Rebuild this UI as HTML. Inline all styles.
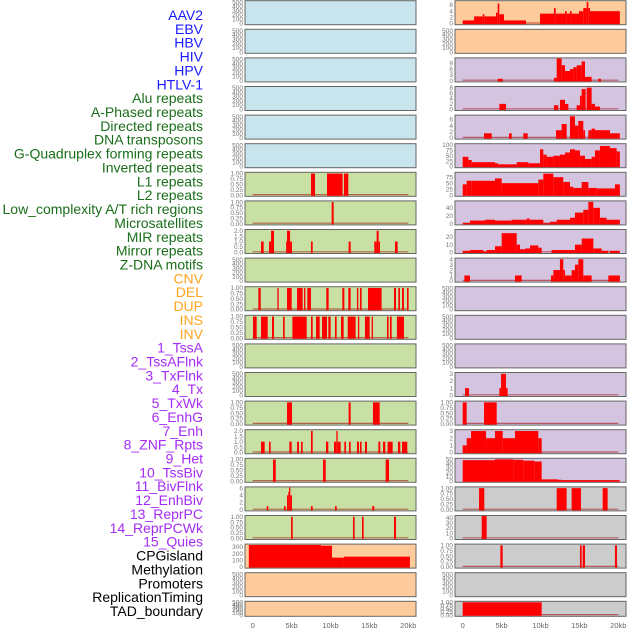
<!DOCTYPE html>
<html><head><meta charset="utf-8">
<style>
html,body{margin:0;padding:0;background:#fff;width:630px;height:630px;overflow:hidden}
svg{display:block}
.lbl{font-family:"Liberation Sans",sans-serif;font-size:14px}
.tick{font-family:"Liberation Sans",sans-serif;font-size:6.5px;fill:#777}
.xt{font-family:"Liberation Sans",sans-serif;font-size:7.5px;fill:#666}
</style></head>
<body>
<svg id="chart" width="630" height="630" viewBox="0 0 630 630" xmlns="http://www.w3.org/2000/svg"></svg>
<script>
// ---- track labels ----
const labelNames = ["AAV2","EBV","HBV","HIV","HPV","HTLV-1","Alu repeats","A-Phased repeats","Directed repeats","DNA transposons","G-Quadruplex forming repeats","Inverted repeats","L1 repeats","L2 repeats","Low_complexity A/T rich regions","Microsatellites","MIR repeats","Mirror repeats","Z-DNA motifs","CNV","DEL","DUP","INS","INV","1_TssA","2_TssAFlnk","3_TxFlnk","4_Tx","5_TxWk","6_EnhG","7_Enh","8_ZNF_Rpts","9_Het","10_TssBiv","11_BivFlnk","12_EnhBiv","13_ReprPC","14_ReprPCWk","15_Quies","CPGisland","Methylation","Promoters","ReplicationTiming","TAD_boundary"];
const labelGroups = [6,13,5,15,5];
const groupColors = ["#1a1aff","#1a6e1a","#ffa520","#a52cf5","#000000"];

// ---- tick sets ----
const T500 = [0,100,200,300,400,500];
const T1 = [0,0.25,0.5,0.75,1];
const T2 = [0,0.5,1,1.5,2];
const xTickKb = [0,5,10,15,20];
const xTickLabels = ["0","5kb","10kb","15kb","20kb"];

// ---- left column data: [startKb, endKb, value] ----
const L6 = [[7.49,8.01,1],[9.55,11.56,1],[11.73,12.29,1]];
const L7 = [[10.15,10.41,1]];
const L8 = [[1.07,1.41,1],[2.1,2.36,1],[2.36,2.74,2],[4.3,4.41,1],[4.41,4.8,2],[4.8,5.05,1],[7.49,7.71,1],[12.33,12.59,1],[15.63,15.93,1],[15.93,16.19,2],[16.19,16.36,1],[18.29,18.63,1]];
const L10 = [[0.73,1.03,1],[3.17,3.34,1],[4.41,5.01,1],[5.7,6.42,1],[6.6,6.77,1],[7.02,7.49,1],[9.46,9.76,1],[11.52,11.78,1],[12.29,12.59,1],[13.4,13.58,1],[13.79,14.0,1],[14.82,16.57,1],[18.16,18.42,1],[18.72,18.93,1],[19.19,19.44,1],[19.83,20.04,1]];
const L11 = [[0.04,0.51,1],[1.07,1.93,1],[2.48,2.74,1],[3.9,4.11,1],[5.1,6.94,1],[7.49,7.71,1],[8.14,8.61,1],[8.91,9.55,1],[9.72,10.02,1],[10.58,10.79,1],[11.35,11.69,1],[12.21,13.23,1],[13.53,13.7,1],[14.43,15.03,1],[15.29,15.46,1],[17.26,17.47,1],[17.64,17.86,1],[18.54,19.44,1]];
const L14 = [[4.41,5.05,1],[12.33,12.59,1],[15.46,16.32,1]];
const L15 = [[1.07,1.54,1],[2.1,2.31,1],[4.71,5.01,1],[5.7,5.95,1],[6.21,6.42,1],[7.49,7.71,2],[9.42,9.72,1],[10.45,10.75,1],[10.75,10.92,2],[10.92,11.31,1],[11.78,11.99,1],[12.38,12.59,1],[13.4,13.66,1],[13.79,14.0,1],[14.43,14.69,1],[16.15,16.4,1],[16.75,17.04,1],[17.34,17.99,1],[18.67,18.97,1],[19.19,19.87,1]];
const L16 = [[2.61,2.96,1],[9.04,9.38,1],[17.09,17.52,1]];
const L17 = [[1.8,2.01,1],[4.03,4.24,1],[4.41,4.58,4],[4.58,4.67,5],[4.67,4.84,7],[4.84,5.05,4],[7.49,7.71,1],[10.58,10.79,1],[15.37,15.63,1]];
const L18 = [[4.93,5.14,1],[12.89,13.1,1],[14.05,14.26,1],[18.16,18.42,1]];
const L19 = [[-0.5,8.78,330],[8.78,10.19,320],[10.19,11.73,140],[11.73,20.21,155]];

// ---- right column data ----
const R0 = [[0,1.46,1],[1.46,2.57,2.3],[2.57,2.78,3],[2.78,4.28,2.3],[4.28,4.5,3.5],[4.5,4.71,6.5],[4.71,5.31,3],[5.31,8.14,1],[9.94,11.73,3.2],[11.73,11.95,5],[11.95,13.15,3.2],[13.15,13.36,4],[13.36,13.79,3.2],[13.79,14.0,4],[14.0,14.95,3.2],[14.95,15.5,4],[15.5,15.93,5],[15.93,16.15,7],[16.15,16.36,5],[16.36,20.2,4]];
const R2 = [[4.5,5.14,1],[11.73,12.08,1.5],[12.08,12.72,11.5],[12.72,13.15,8],[13.15,13.79,5],[13.79,14.22,6],[14.22,14.65,7],[14.65,15.29,8],[15.29,15.72,10],[15.72,16.57,2],[17.43,17.77,1]];
const R3 = [[4.71,5.57,2],[11.73,12.29,1.5],[12.5,13.15,3.5],[13.15,13.58,2],[14.65,15.07,1.5],[15.07,15.29,5],[15.29,15.8,7.5],[15.93,16.57,8],[16.57,17.0,2],[17.0,17.64,1]];
const R4 = [[2.74,3.73,1.5],[5.95,6.3,1.5],[7.79,8.35,1.5],[11.99,12.72,2.5],[12.72,13.36,4.5],[13.79,14.43,7],[14.43,14.86,4],[14.86,15.5,5.5],[15.5,15.72,2.5],[16.15,16.57,2.5],[16.57,17.0,3],[17.0,18.93,2.5],[18.93,20.2,1.5]];
const R5 = [[0,0.73,45],[0.73,1.16,30],[1.16,4.15,20],[4.15,4.58,15],[4.58,6.94,10],[6.94,8.44,20],[8.44,9.94,15],[9.94,10.36,80],[10.36,10.79,55],[10.79,11.65,45],[11.65,12.5,50],[12.5,13.15,55],[13.15,13.79,65],[13.79,14.43,80],[14.43,15.07,75],[15.07,15.72,50],[15.72,16.57,35],[16.57,17.0,45],[17.0,17.64,75],[17.64,18.93,95],[18.93,19.79,85],[19.79,20.2,70]];
const R6 = [[0,0.51,45],[0.51,1.16,60],[1.16,4.15,60],[4.15,5.01,70],[5.01,6.72,50],[6.72,9.72,50],[9.72,10.36,65],[10.36,11.65,90],[11.65,12.93,75],[12.93,13.79,55],[13.79,14.22,35],[14.22,15.29,30],[15.29,16.15,55],[16.15,17.22,30],[17.22,19.57,28],[19.57,20.2,45]];
const R7 = [[0,0.94,2],[0.94,2.87,8],[2.87,4.15,10],[4.15,6.3,8],[6.3,8.22,10],[8.22,8.6,13],[8.6,10.36,10],[10.36,11.22,1],[11.22,12.08,5],[12.08,13.79,10],[13.79,14.43,15],[14.43,15.5,28],[15.5,16.15,35],[16.15,16.79,55],[16.79,17.64,40],[17.64,18.5,15],[18.5,20.2,10]];
const R8 = [[0,0.94,2],[0.94,2.66,3],[2.66,3.08,1],[3.08,4.15,3],[4.15,5.01,8],[5.01,6.94,25],[6.94,7.37,10],[7.37,8.01,4],[8.01,8.65,5],[8.65,9.72,9],[9.72,10.15,6],[11.43,12.29,3],[12.29,14.43,3],[14.43,15.29,10],[15.29,16.79,18],[16.79,17.86,5],[17.86,18.72,2],[18.93,20.2,2]];
const R9 = [[0.21,0.94,1],[6.72,7.58,1],[11.35,11.65,1],[11.65,12.5,2],[12.5,12.93,4],[12.93,13.15,2],[13.15,14.0,1],[14.0,14.43,2],[14.43,14.86,3],[14.86,15.5,4],[15.5,16.57,1],[18.72,20.2,1]];
const R13 = [[0.3,0.81,1],[4.71,4.93,1],[4.93,5.57,3],[5.57,5.78,1]];
const R14 = [[0,0.51,1],[2.74,4.37,1]];
const R15 = [[0,0.51,1],[0.51,1.07,2],[1.07,3.0,3],[3.0,4.15,2],[4.15,5.14,3],[5.14,6.72,2],[6.72,9.72,3],[9.72,10.15,2]];
const R16 = [[0,4.15,48],[4.15,6.51,50],[6.51,7.79,49],[7.79,9.2,47],[9.2,10.15,45],[10.15,12.2,4],[12.2,12.72,3],[12.72,20.2,2]];
const R17 = [[2.1,2.78,1],[12.08,13.36,1],[14.0,15.2,1],[17.99,18.63,1]];
const R18 = [[2.44,3.08,43]];
const R19 = [[4.84,5.14,1],[15.07,15.29,1],[15.42,15.72,1],[19.57,19.83,1]];
const R21 = [[0,10.15,1]];

// panel specs: [dataArray, ymax, ticks, bg]
const BL="#c8e4ec", GR="#c8e0a4", PE="#fecc9c", LV="#d4c4e0", GY="#cccccc";
const leftPanels = [
 [null,520,T500,BL],[null,520,T500,BL],[null,520,T500,BL],[null,520,T500,BL],[null,520,T500,BL],[null,520,T500,BL],
 [L6,1.03,T1,GR],[L7,1.03,T1,GR],[L8,2.06,T2,GR],[null,520,T500,GR],[L10,1.03,T1,GR],[L11,1.03,T1,GR],
 [null,520,T500,GR],[null,520,T500,GR],[L14,1.03,T1,GR],[L15,2.06,T2,GR],[L16,1.03,T1,GR],[L17,6.2,[0,2,4,6],GR],
 [L18,1.03,T1,GR],[L19,335,[0,100,200,300],PE],[null,520,T500,PE],[null,520,T500,PE]];
const rightPanels = [
 [R0,7.2,[0,2,4,6],PE],[null,520,T500,PE],[R2,11.5,[0,3,6,9],LV],[R3,8.2,[0,2,4,6,8],LV],[R4,7.2,[0,2,4,6],LV],
 [R5,103,[0,25,50,75,100],LV],[R6,93,[0,25,50,75],LV],[R7,56,[0,20,40],LV],[R8,29,[0,10,20],LV],[R9,4.1,[0,1,2,3,4],LV],
 [null,520,T500,LV],[null,520,T500,LV],[null,520,T500,LV],[R13,3.1,[0,1,2,3],LV],[R14,1.03,T1,LV],[R15,3.1,[0,1,2,3],LV],
 [R16,51,[0,10,20,30,40,50],LV],[R17,1.03,T1,GY],[R18,43,[0,10,20,30,40],GY],[R19,1.03,T1,GY],[null,520,T500,GY],[R21,1.03,T1,GY]];

const NS="http://www.w3.org/2000/svg";
const svg=document.getElementById('chart');
function mk(tag,attrs,parent){const e=document.createElementNS(NS,tag);for(const k in attrs)e.setAttribute(k,attrs[k]);(parent||svg).appendChild(e);return e;}

// labels
let li=0;
const lblG=mk('g',{});


labelGroups.forEach((n,g)=>{for(let k=0;k<n;k++){const t=mk('text',{x:203,y:20+li*13.86,'text-anchor':'end','class':'lbl',fill:groupColors[g]},lblG);t.textContent=labelNames[li];


li++;}});

function rowTop(i){return 0.7+i*28.6;}
function rowH(i){return i===21?15:24;}

function drawPanel(spec,i,px,side){
  const [data,ymax,ticks,bg]=spec;
  const top=rowTop(i),h=rowH(i),w=171;
  const g=mk('g',{});
  
  
  const r=mk('rect',{x:px,y:top,width:w,height:h,fill:bg,stroke:'#666','stroke-width':1},g);
  
  
  const x0=px+7.7;
  const xs=kb=>x0+kb*7.78;
  const bot=top+h-1.2;
  const ys=v=>bot-v/ymax*(h-1.8);
  ticks.forEach(tv=>{const t=mk('text',{x:px-2,y:ys(tv)+2.2,'text-anchor':'end','class':'tick'},g);
    t.textContent=(ticks===T1)?tv.toFixed(2):(ticks===T2?tv.toFixed(1):String(tv));
    
    });
  if(data){
    const bl=mk('line',{x1:xs(0),x2:xs(20),y1:bot-0.5,y2:bot-0.5,stroke:'rgba(160,0,0,0.55)','stroke-width':1.2},g);
    
    
    data.forEach(d=>{
      const x1=Math.max(px+0.5,xs(d[0])),x2=Math.min(px+w-0.5,xs(d[1]));
      const yv=Math.max(top+0.5,ys(d[2]));
      const b=mk('rect',{x:x1,y:yv,width:Math.max(1,x2-x1),height:bot-yv+0.7,fill:'#ff0000'},g);
      
      
    });
  }
}
leftPanels.forEach((s,i)=>drawPanel(s,i,245,'left'));
rightPanels.forEach((s,i)=>drawPanel(s,i,455,'right'));

// x axis labels
[245,455].forEach((px,c)=>{xTickKb.forEach((kb,j)=>{const t=mk('text',{x:px+7.7+kb*7.78,y:628,'text-anchor':'middle','class':'xt'});t.textContent=xTickLabels[j];

});});
</script>
</body></html>
